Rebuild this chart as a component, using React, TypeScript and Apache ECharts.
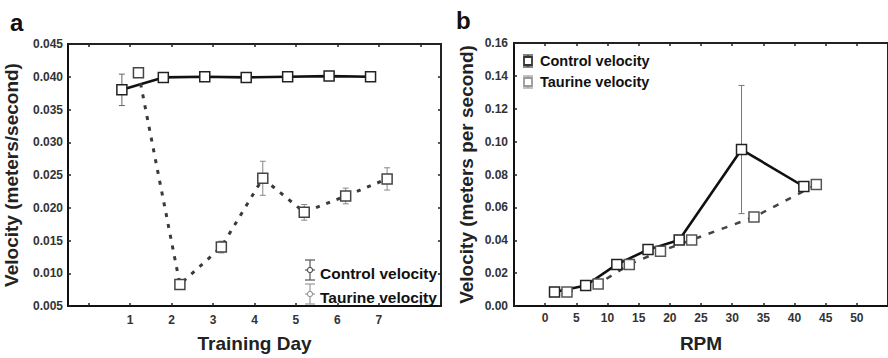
import React, { useEffect, useRef } from "react";
import * as echarts from "echarts";

// ---------- Panel a data (Training Day) ----------
const trainingDays = [1, 2, 3, 4, 5, 6, 7];
const controlA = [0.038, 0.0399, 0.04, 0.0399, 0.04, 0.0401, 0.04];
const controlAErr = [0.0024, 0.0002, 0.0002, 0.0002, 0.0002, 0.0002, 0.0002];
const taurineA = [0.0406, 0.0083, 0.014, 0.0245, 0.0193, 0.0218, 0.0244];
const taurineAErr = [0.0003, 0.0003, 0.0009, 0.0026, 0.0012, 0.0012, 0.0017];
const dayTickValues = [0, 1, 2, 3, 4, 5, 6, 7, 8];
const dayLabelValues = [1, 2, 3, 4, 5, 6, 7];

// ---------- Panel b data (RPM) ----------
const rpmLevels = [2.5, 7.5, 12.5, 17.5, 22.5, 32.5, 42.5];
const controlB = [0.0085, 0.0125, 0.0253, 0.0343, 0.0402, 0.0952, 0.0727];
const controlBErr = [0.0005, 0.0005, 0.0008, 0.0008, 0.0008, 0.039, 0.0008];
const taurineB = [0.0085, 0.0134, 0.0253, 0.0333, 0.0402, 0.0541, 0.0739];
const taurineBErr = [0.0004, 0.0005, 0.0006, 0.0006, 0.0006, 0.0008, 0.0008];
const rpmTickValues = [-5, 0, 5, 10, 15, 20, 25, 30, 35, 40, 45, 50, 55];
const rpmLabelValues = [0, 5, 10, 15, 20, 25, 30, 35, 40, 45, 50];

const legendNames = ["Control velocity", "Taurine velocity"];

const DODGE_A = 0.2;
const DODGE_B = 1;
const FONT = "'Liberation Sans', Arial, Helvetica, sans-serif";

function errorSeries(xs: number[], ys: number[], errs: number[], dodge: number, axis: number, color: string) {
  return {
    type: "custom",
    xAxisIndex: axis,
    yAxisIndex: axis,
    z: 1,
    silent: true,
    data: xs.map((x, i) => [x + dodge, ys[i] - errs[i], ys[i] + errs[i]]),
    encode: { x: 0, y: [1, 2] },
    renderItem: (params: any, api: any) => {
      const x = api.value(0);
      const p1 = api.coord([x, api.value(1)]);
      const p2 = api.coord([x, api.value(2)]);
      const w = 3;
      const st = { stroke: color, lineWidth: 1 };
      return {
        type: "group",
        children: [
          { type: "line", shape: { x1: p1[0], y1: p1[1], x2: p2[0], y2: p2[1] }, style: st },
          { type: "line", shape: { x1: p1[0] - w, y1: p1[1], x2: p1[0] + w, y2: p1[1] }, style: st },
          { type: "line", shape: { x1: p2[0] - w, y1: p2[1], x2: p2[0] + w, y2: p2[1] }, style: st },
        ],
      };
    },
  };
}

function lineSeries(name: string, xs: number[], ys: number[], dodge: number, axis: number, lineColor: string, borderColor: string, type: any, width: number) {
  return {
    name,
    type: "line",
    xAxisIndex: axis,
    yAxisIndex: axis,
    z: 3,
    data: xs.map((x, i) => [x + dodge, ys[i]]),
    symbol: "rect",
    symbolSize: 10,
    showSymbol: true,
    itemStyle: { color: "#fff", borderColor, borderWidth: 1.5 },
    lineStyle: { color: lineColor, width, type },
  };
}

function legendIcon(x: number, y: number, color: string, marker: "circle" | "square", h: number) {
  const st = { stroke: color, lineWidth: 1.2 };
  const w = 5;
  const children: any[] = [
    { type: "line", shape: { x1: x, y1: y - h, x2: x, y2: y + h }, style: st },
    { type: "line", shape: { x1: x - w, y1: y - h, x2: x + w, y2: y - h }, style: st },
    { type: "line", shape: { x1: x - w, y1: y + h, x2: x + w, y2: y + h }, style: st },
  ];
  if (marker === "circle") {
    children.push({ type: "line", shape: { x1: x - w, y1: y, x2: x + w, y2: y }, style: st });
    children.push({ type: "circle", shape: { cx: x, cy: y, r: 2.6 }, style: { fill: "#fff", stroke: color, lineWidth: 1.2 } });
  } else {
    children.push({ type: "rect", shape: { x: x - 4, y: y - 4, width: 8, height: 8 }, style: { fill: "#fff", stroke: color, lineWidth: 1.8 } });
  }
  return { type: "group", children };
}

function legendText(x: number, y: number, text: string, size: number) {
  return {
    type: "text",
    x,
    y,
    style: { text, fill: "#111", font: `bold ${size}px ${FONT}`, verticalAlign: "middle", align: "left" },
  };
}

export default function App() {
  const ref = useRef<HTMLDivElement>(null);
  useEffect(() => {
    if (!ref.current) return;
    const chart = echarts.init(ref.current, null, { renderer: "svg" });
    const labelStyle = { color: "#333", fontWeight: "bold" as const, fontSize: 12, fontFamily: FONT };
    const nameStyle = { color: "#222", fontWeight: "bold" as const, fontFamily: FONT };
    const tickIn = { show: true, inside: true, length: 3, lineStyle: { color: "#222", width: 1.5 } };
    const axisLine = { show: true, onZero: false, lineStyle: { color: "#111", width: 2 } };

    const option: any = {
      animation: false,
      backgroundColor: "#fff",
      grid: [
        { left: 68, top: 44, width: 373, height: 268, show: true, borderColor: "#222", borderWidth: 2, backgroundColor: "transparent" },
        { left: 514, top: 43, width: 380, height: 269, show: true, borderColor: "#222", borderWidth: 2, backgroundColor: "transparent" },
      ],
      xAxis: [
        {
          type: "value", gridIndex: 0, min: -0.5, max: 8.5, position: "bottom",
          name: "Training Day", nameLocation: "middle", nameGap: 28,
          nameTextStyle: { ...nameStyle, fontSize: 19 },
          axisLine, splitLine: { show: false },
          axisTick: { ...tickIn, customValues: dayTickValues },
          axisLabel: { ...labelStyle, margin: 8, customValues: dayLabelValues, formatter: (v: number) => String(v) },
        },
        {
          type: "value", gridIndex: 1, min: -5, max: 55, position: "bottom",
          name: "RPM", nameLocation: "middle", nameGap: 28, nameTextStyle: { ...nameStyle, fontSize: 19 },
          axisLine, splitLine: { show: false },
          axisTick: { ...tickIn, customValues: rpmTickValues },
          axisLabel: { ...labelStyle, margin: 6, customValues: rpmLabelValues, formatter: (v: number) => String(v) },
        },
        {
          type: "value", gridIndex: 0, min: -0.5, max: 8.5, position: "top",
          axisLine: { show: false, onZero: false }, splitLine: { show: false },
          axisTick: { ...tickIn, customValues: dayTickValues },
          axisLabel: { show: false },
        },
        {
          type: "value", gridIndex: 1, min: -5, max: 55, position: "top",
          axisLine: { show: false, onZero: false }, splitLine: { show: false },
          axisTick: { ...tickIn, customValues: rpmTickValues },
          axisLabel: { show: false },
        },
      ],
      yAxis: [
        {
          type: "value", gridIndex: 0, min: 0.005, max: 0.045, interval: 0.005,
          name: "Velocity (meters/second)", nameLocation: "middle", nameGap: 47, nameRotate: 90,
          nameTextStyle: { ...nameStyle, fontSize: 19 },
          axisLine, splitLine: { show: false }, axisTick: tickIn,
          axisLabel: { ...labelStyle, margin: 5, formatter: (v: number) => v.toFixed(3) },
        },
        {
          type: "value", gridIndex: 1, min: 0, max: 0.16, interval: 0.02,
          name: "Velocity (meters per second)", nameLocation: "middle", nameGap: 38, nameRotate: 90,
          nameTextStyle: { ...nameStyle, fontSize: 19 },
          axisLine, splitLine: { show: false }, axisTick: tickIn,
          axisLabel: { ...labelStyle, margin: 6, formatter: (v: number) => v.toFixed(2) },
        },
        {
          type: "value", gridIndex: 0, min: 0.005, max: 0.045, interval: 0.005, position: "right",
          axisLine: { show: false, onZero: false }, splitLine: { show: false }, axisTick: tickIn, axisLabel: { show: false },
        },
      ],
      series: [
        errorSeries(trainingDays, controlA, controlAErr, -DODGE_A, 0, "#666"),
        errorSeries(trainingDays, taurineA, taurineAErr, DODGE_A, 0, "#888"),
        lineSeries(legendNames[0], trainingDays, controlA, -DODGE_A, 0, "#111", "#222", "solid", 2.6),
        lineSeries(legendNames[1], trainingDays, taurineA, DODGE_A, 0, "#3a3a3a", "#444", [4, 7], 3),
        errorSeries(rpmLevels, controlB, controlBErr, -DODGE_B, 1, "#777"),
        errorSeries(rpmLevels, taurineB, taurineBErr, DODGE_B, 1, "#999"),
        lineSeries(legendNames[0], rpmLevels, controlB, -DODGE_B, 1, "#111", "#222", "solid", 2.6),
        lineSeries(legendNames[1], rpmLevels, taurineB, DODGE_B, 1, "#444", "#555", [6, 8], 2.5),
      ],
      graphic: [
        { type: "text", x: 10, y: 10, style: { text: "a", fill: "#111", font: `bold 24px ${FONT}` } },
        { type: "text", x: 456, y: 8, style: { text: "b", fill: "#111", font: `bold 24px ${FONT}` } },
        legendIcon(310, 270, "#555", "circle", 10),
        legendIcon(310, 294, "#999", "circle", 10),
        legendText(320, 273, legendNames[0], 15.5),
        legendText(320, 297, legendNames[1], 15.5),
        legendIcon(528, 61, "#333", "square", 6),
        legendIcon(528, 82, "#999", "square", 6),
        legendText(540, 61, legendNames[0], 14.5),
        legendText(540, 82, legendNames[1], 14.5),
      ],
    };
    chart.setOption(option);
    return () => chart.dispose();
  }, []);
  return <div ref={ref} style={{ position: "fixed", left: 0, top: 0, width: 888, height: 358 }} />;
}
